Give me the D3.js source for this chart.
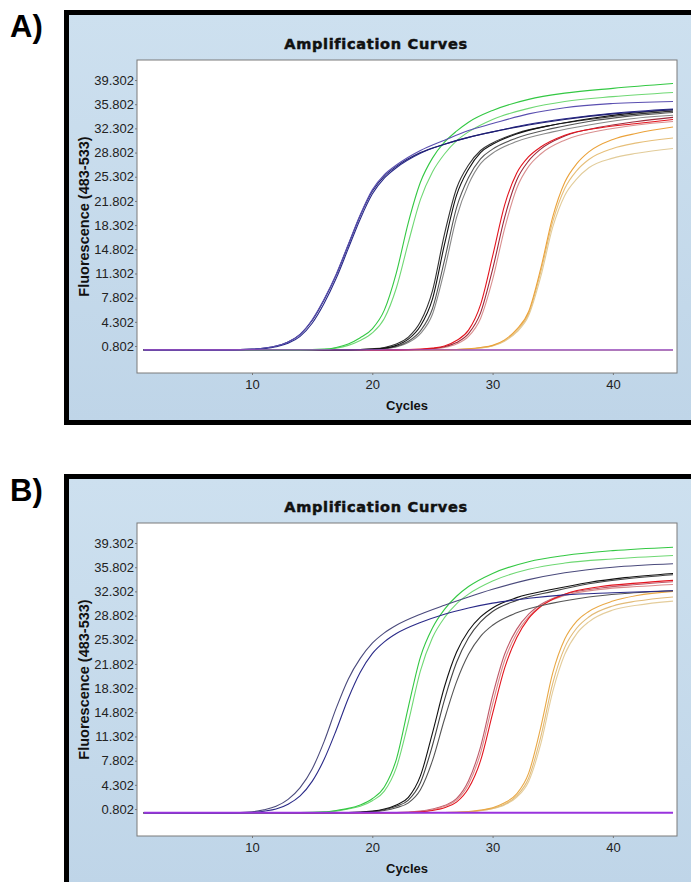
<!DOCTYPE html>
<meta charset="utf-8">
<script src="https://d3js.org/d3.v7.min.js"></script>
<style>
  body { margin: 0; background: #fff; }
  svg text { font-family: "Liberation Sans", Arial, sans-serif; }
</style>
<div id="chart"></div>
<script>

// ---- data ----
var yTicks = [0.802, 4.302, 7.802, 11.302, 14.802, 18.302, 21.802, 25.302, 28.802, 32.302, 35.802, 39.302];
var xTicks = [10, 20, 30, 40];
var baseCycles = [1, 45];
var baseFlat1 = [0.25, 0.25];
var baseFlat2 = [0.2, 0.2];

// panel A
var blueCyclesA = [1, 8, 10, 12, 13, 14, 15, 16, 17, 18, 19, 20, 21, 22, 24, 26, 28, 30, 33, 36, 40, 45];
var blueA1 = [0.25, 0.25, 0.35, 0.8, 1.4, 2.5, 4.6, 7.6, 11.2, 15.5, 19.8, 23.4, 25.6, 27.0, 29.1, 30.6, 32.0, 33.0, 34.4, 35.3, 35.9, 36.2];
var blueA2 = [0.25, 0.25, 0.35, 0.8, 1.4, 2.5, 4.5, 7.5, 11.1, 15.4, 19.7, 23.2, 25.4, 26.8, 28.8, 30.0, 31.0, 31.8, 32.8, 33.6, 34.4, 35.0];
var blueA3 = [0.25, 0.25, 0.3, 0.7, 1.2, 2.2, 4.1, 7.0, 10.6, 14.9, 19.2, 22.8, 25.1, 26.6, 28.7, 30.0, 31.0, 31.8, 32.9, 33.7, 34.5, 35.1];

var greenCyclesA = [1, 14, 16, 17, 18, 19, 20, 21, 22, 23, 24, 25, 26, 27, 28, 30, 33, 36, 40, 45];
var greenA1 = [0.25, 0.25, 0.35, 0.6, 1.1, 2.0, 3.3, 6.0, 11.4, 18.7, 24.5, 28.0, 30.3, 31.9, 33.2, 34.9, 36.5, 37.4, 38.1, 38.8];
var greenA2 = [0.25, 0.25, 0.3, 0.5, 0.9, 1.6, 2.7, 4.8, 9.2, 15.8, 22.0, 26.0, 28.6, 30.5, 31.8, 33.6, 35.2, 36.2, 36.9, 37.5];

var blackCyclesA = [1, 18, 20, 21, 22, 23, 24, 25, 26, 27, 28, 29, 30, 32, 35, 38, 41, 45];
var blackA1 = [0.25, 0.25, 0.35, 0.5, 0.9, 1.8, 3.7, 7.6, 15.5, 22.6, 26.4, 28.8, 30.0, 31.5, 32.8, 33.7, 34.4, 35.0];
var blackA2 = [0.25, 0.25, 0.3, 0.45, 0.75, 1.5, 3.0, 6.2, 13.2, 20.8, 25.2, 27.9, 29.3, 30.9, 32.3, 33.3, 34.0, 34.6];
var blackA3 = [0.25, 0.25, 0.4, 0.6, 1.1, 2.1, 4.3, 8.8, 17.0, 23.6, 27.0, 29.1, 30.2, 31.6, 32.8, 33.6, 34.2, 34.8];
var blackA4 = [0.25, 0.25, 0.3, 0.4, 0.65, 1.3, 2.6, 5.4, 11.8, 19.4, 24.2, 27.2, 28.7, 30.4, 31.8, 32.8, 33.6, 34.2];

var redCyclesA = [1, 22, 24, 25, 26, 27, 28, 29, 30, 31, 32, 33, 34, 36, 39, 42, 45];
var redA1 = [0.25, 0.25, 0.35, 0.5, 0.8, 1.6, 3.1, 6.8, 13.8, 21.2, 25.8, 28.2, 29.6, 31.3, 32.4, 33.0, 33.6];
var redA2 = [0.25, 0.25, 0.3, 0.45, 0.7, 1.3, 2.6, 5.6, 11.9, 19.4, 24.8, 27.6, 29.3, 31.2, 32.5, 33.3, 33.9];
var redA3 = [0.25, 0.25, 0.3, 0.4, 0.6, 1.1, 2.2, 4.8, 10.4, 17.8, 23.6, 26.8, 28.6, 30.6, 32.0, 32.8, 33.3];

var orangeCyclesA = [1, 26, 28, 29, 30, 31, 32, 33, 34, 35, 36, 37, 38, 40, 42, 45];
var orangeA1 = [0.25, 0.25, 0.4, 0.6, 0.9, 1.7, 3.2, 5.8, 12.0, 19.5, 24.5, 27.2, 28.9, 30.7, 31.6, 32.5];
var orangeA2 = [0.25, 0.25, 0.35, 0.55, 0.85, 1.6, 3.0, 5.5, 11.5, 18.8, 23.6, 26.2, 27.8, 29.4, 30.2, 30.9];
var orangeA3 = [0.25, 0.25, 0.35, 0.5, 0.8, 1.5, 2.8, 5.2, 10.8, 18.0, 22.6, 25.0, 26.6, 28.0, 28.7, 29.4];

// panel B
var blueCyclesB = [1, 8, 10, 11, 12, 13, 14, 15, 16, 17, 18, 19, 20, 21, 22, 24, 26, 28, 30, 33, 36, 40, 45];
var blueB1 = [0.25, 0.25, 0.4, 0.7, 1.2, 2.2, 3.9, 6.6, 10.6, 15.4, 19.6, 22.6, 24.8, 26.3, 27.4, 29.0, 30.3, 31.5, 32.6, 34.0, 35.0, 35.8, 36.3];
var blueB2 = [0.25, 0.25, 0.3, 0.5, 0.8, 1.5, 2.7, 4.8, 8.0, 12.2, 16.8, 20.6, 23.3, 25.0, 26.2, 27.8, 29.0, 29.9, 30.6, 31.3, 31.8, 32.1, 32.4];

var greenCyclesB = [1, 14, 16, 17, 18, 19, 20, 21, 22, 23, 24, 25, 26, 27, 28, 30, 33, 36, 40, 45];
var greenB1 = [0.25, 0.3, 0.4, 0.6, 0.9, 1.4, 2.3, 4.0, 8.0, 15.6, 22.8, 27.0, 29.7, 31.6, 33.0, 34.9, 36.6, 37.5, 38.2, 38.7];
var greenB2 = [0.25, 0.3, 0.35, 0.5, 0.8, 1.2, 2.0, 3.4, 6.8, 13.4, 20.8, 25.6, 28.5, 30.5, 31.9, 33.8, 35.5, 36.4, 37.0, 37.5];

var blackCyclesB = [1, 18, 20, 21, 22, 23, 24, 25, 26, 27, 28, 29, 30, 32, 35, 38, 41, 45];
var blackB1 = [0.25, 0.3, 0.5, 0.8, 1.4, 2.5, 5.6, 11.8, 18.5, 23.5, 26.6, 28.6, 29.9, 31.4, 32.6, 33.6, 34.3, 34.9];
var blackB2 = [0.25, 0.3, 0.45, 0.7, 1.2, 2.1, 4.6, 10.0, 16.6, 22.0, 25.6, 27.9, 29.4, 31.0, 32.3, 33.4, 34.1, 34.7];
var blackB3 = [0.25, 0.25, 0.4, 0.6, 1.0, 1.7, 3.6, 7.8, 13.8, 19.2, 23.2, 25.8, 27.4, 29.2, 30.6, 31.5, 32.0, 32.4];

var redCyclesB = [1, 22, 24, 25, 26, 27, 28, 29, 30, 31, 32, 33, 34, 36, 39, 42, 45];
var redB1 = [0.25, 0.3, 0.5, 0.8, 1.3, 2.3, 4.9, 9.8, 17.2, 23.2, 26.8, 29.0, 30.4, 31.9, 32.8, 33.3, 33.7];
var redB2 = [0.25, 0.25, 0.4, 0.6, 1.0, 1.8, 3.8, 7.8, 14.6, 21.2, 25.6, 28.4, 30.1, 31.9, 33.0, 33.5, 33.9];
var redB3 = [0.25, 0.3, 0.45, 0.7, 1.2, 2.1, 4.4, 8.9, 16.0, 22.3, 26.2, 28.6, 30.2, 31.7, 32.6, 33.0, 33.3];

var orangeCyclesB = [1, 26, 28, 29, 30, 31, 32, 33, 34, 35, 36, 37, 38, 40, 42, 45];
var orangeB1 = [0.25, 0.3, 0.45, 0.65, 1.0, 1.7, 3.0, 6.0, 12.6, 20.5, 25.4, 28.0, 29.4, 30.9, 31.7, 32.3];
var orangeB2 = [0.25, 0.3, 0.4, 0.6, 0.9, 1.5, 2.7, 5.3, 11.2, 19.0, 24.2, 27.0, 28.6, 30.2, 30.9, 31.5];
var orangeB3 = [0.25, 0.3, 0.4, 0.55, 0.85, 1.4, 2.5, 4.8, 10.2, 17.8, 23.2, 26.2, 27.9, 29.6, 30.3, 30.9];

// ---- series lists (cycles, values, colour) ----
var seriesA = [
  [baseCycles, baseFlat2, "#b08a9c"],
  [orangeCyclesA, orangeA3, "#e2cc9a"],
  [orangeCyclesA, orangeA2, "#e6bf7a"],
  [orangeCyclesA, orangeA1, "#eba23a"],
  [redCyclesA, redA3, "#d99090"],
  [redCyclesA, redA2, "#9c2a3c"],
  [redCyclesA, redA1, "#e3141e"],
  [blackCyclesA, blackA4, "#888888"],
  [blackCyclesA, blackA2, "#555555"],
  [blackCyclesA, blackA3, "#333333"],
  [blackCyclesA, blackA1, "#111111"],
  [greenCyclesA, greenA2, "#6fd874"],
  [greenCyclesA, greenA1, "#33c843"],
  [blueCyclesA, blueA3, "#28288a"],
  [blueCyclesA, blueA2, "#1d1d70"],
  [blueCyclesA, blueA1, "#5a4fb0"],
  [baseCycles, baseFlat1, "#9a4cc0"]
];

var seriesB = [
  [orangeCyclesB, orangeB3, "#e4cd9c"],
  [orangeCyclesB, orangeB2, "#e2bb78"],
  [orangeCyclesB, orangeB1, "#e9a845"],
  [redCyclesB, redB1, "#c05a6a"],
  [redCyclesB, redB3, "#d98c8c"],
  [redCyclesB, redB2, "#e3141e"],
  [blackCyclesB, blackB3, "#555555"],
  [blackCyclesB, blackB2, "#444444"],
  [blackCyclesB, blackB1, "#111111"],
  [greenCyclesB, greenB2, "#6fd874"],
  [greenCyclesB, greenB1, "#33c843"],
  [blueCyclesB, blueB2, "#2a2a88"],
  [blueCyclesB, blueB1, "#4a4a7c"],
  [baseCycles, baseFlat1, "#9933dd"]
];

// ---- layout ----
var W = 691, H = 882;
var svg = d3.select("#chart").append("svg")
  .attr("width", W)
  .attr("height", H);

var defs = svg.append("defs");
var grad = defs.append("linearGradient")
  .attr("id", "bg")
  .attr("x1", 0).attr("y1", 0).attr("x2", 0).attr("y2", 1);
grad.append("stop").attr("offset", "0%").attr("stop-color", "#cde0ef");
grad.append("stop").attr("offset", "100%").attr("stop-color", "#bfd5e8");

var plotW = 540, plotH = 313;

var x = d3.scaleLinear().domain([0.44, 45.33]).range([0, plotW]);
var y = d3.scaleLinear().domain([-3.1, 42.2]).range([plotH, 0]);

var line = d3.line()
  .x(function(d) { return x(d[0]); })
  .y(function(d) { return y(d[1]); })
  .curve(d3.curveMonotoneX);

function drawPanel(label, frameTop, plotTop, series, baseWidth) {
  // outer frame
  svg.append("rect")
    .attr("x", 66.5).attr("y", frameTop)
    .attr("width", 660).attr("height", 410)
    .attr("fill", "url(#bg)")
    .attr("stroke", "#000")
    .attr("stroke-width", 5);

  svg.append("text")
    .attr("x", 10).attr("y", frameTop + 24)
    .style("font-size", "31px")
    .style("font-weight", "bold")
    .text(label);

  var g = svg.append("g")
    .attr("transform", "translate(137," + plotTop + ")");

  g.append("rect")
    .attr("width", plotW).attr("height", plotH)
    .attr("fill", "#fff")
    .attr("stroke", "#7a7a7a")
    .attr("stroke-width", 1);

  // title
  svg.append("text")
    .attr("x", 376).attr("y", plotTop - 11)
    .attr("text-anchor", "middle")
    .style("font-family", "'DejaVu Sans', sans-serif")
    .style("font-size", "14.5px")
    .style("font-weight", "bold")
    .style("letter-spacing", "0.7px")
    .attr("fill", "#111")
    .attr("stroke", "#111")
    .attr("stroke-width", 0.5)
    .text("Amplification Curves");

  // axes
  var yAxis = g.append("g")
    .call(d3.axisLeft(y).tickValues(yTicks).tickSize(2).tickPadding(1)
      .tickFormat(d3.format(".3f")));
  yAxis.select(".domain").remove();
  yAxis.selectAll("text").style("font-size", "13px").attr("fill", "#222");
  yAxis.selectAll("line").attr("stroke", "#777");

  var xAxis = g.append("g")
    .attr("transform", "translate(0," + plotH + ")")
    .call(d3.axisBottom(x).tickValues(xTicks).tickSize(2).tickPadding(5)
      .tickFormat(d3.format("d")));
  xAxis.select(".domain").remove();
  xAxis.selectAll("text").style("font-size", "13px").attr("fill", "#222");
  xAxis.selectAll("line").attr("stroke", "#777");

  g.append("text")
    .attr("x", plotW / 2).attr("y", plotH + 37)
    .attr("text-anchor", "middle")
    .style("font-size", "13px")
    .style("font-weight", "bold")
    .attr("fill", "#111")
    .text("Cycles");

  g.append("text")
    .attr("transform", "rotate(-90)")
    .attr("x", -(plotH / 2)).attr("y", -48)
    .attr("text-anchor", "middle")
    .style("font-size", "14.5px")
    .style("font-weight", "bold")
    .attr("fill", "#111")
    .text("Fluorescence (483-533)");

  // curves
  g.selectAll("path.curve")
    .data(series)
    .enter()
    .append("path")
      .attr("class", "curve")
      .attr("fill", "none")
      .attr("stroke", function(d) { return d[2]; })
      .attr("stroke-width", function(d, i) { return i === series.length - 1 ? baseWidth : 1.1; })
      .attr("d", function(d) {
        return line(d[0].map(function(c, i) { return [c, d[1][i]]; }));
      });
}

drawPanel("A)", 12.5, 60, seriesA, 1.3);
drawPanel("B)", 476.5, 523, seriesB, 2);

</script>
